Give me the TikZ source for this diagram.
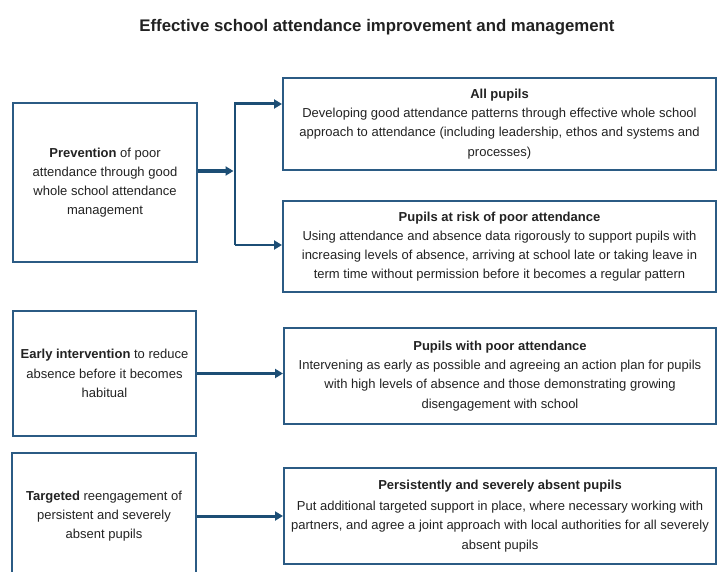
\documentclass[tikz,border=0pt]{standalone}
\usepackage{fontspec}
\setmainfont{Liberation Sans}
\usetikzlibrary{arrows.meta}
\definecolor{boxblue}{HTML}{2B5B84}
\definecolor{arrblue}{HTML}{1C4E75}
\definecolor{txt}{HTML}{222222}
\tikzset{
  x=1pt, y=-1pt,
  card/.style={draw=boxblue, line width=2pt, rectangle, align=center, text=txt,
    font=\fontsize{13}{19.2}\selectfont, inner sep=0pt},
  conn/.style={draw=arrblue, line width=2pt},
  arr/.style={conn, -{Triangle[length=8pt,width=9pt]}},
}
\begin{document}
\begin{tikzpicture}
\useasboundingbox (0,0) rectangle (717,572);
\clip (0,0) rectangle (717,572);
\node[text=txt, font=\fontsize{16.8}{19}\selectfont\bfseries] (title) at (377,27) {Effective school attendance improvement and management};

\node[card, minimum width=184, minimum height=159] (prev) at (105,182.5)
  {\textbf{Prevention} of poor\\attendance through good\\whole school attendance\\management};
\node[card, minimum width=433, minimum height=92] (all) at (499.5,124)
  {\textbf{All pupils}\\Developing good attendance patterns through effective whole school\\approach to attendance (including leadership, ethos and systems and\\processes)};
\node[card, minimum width=433, minimum height=91] (risk) at (499.5,246.5)
  {\textbf{Pupils at risk of poor attendance}\\Using attendance and absence data rigorously to support pupils with\\increasing levels of absence, arriving at school late or taking leave in\\term time without permission before it becomes a regular pattern};
\node[card, minimum width=183, minimum height=125] (early) at (104.5,373.5)
  {\textbf{Early intervention} to reduce\\absence before it becomes\\habitual};
\node[card, minimum width=432, minimum height=96] (poor) at (500,376)
  {\textbf{Pupils with poor attendance}\\Intervening as early as possible and agreeing an action plan for pupils\\with high levels of absence and those demonstrating growing\\disengagement with school};
\node[card, minimum width=184, minimum height=126] (targ) at (104,516)
  {\textbf{Targeted} reengagement of\\persistent and severely\\absent pupils};
\node[card, minimum width=432, minimum height=96] (pers) at (500,516)
  {\textbf{Persistently and severely absent pupils}\\[2pt]Put additional targeted support in place, where necessary working with\\partners, and agree a joint approach with local authorities for all severely\\absent pupils};

\coordinate (split) at (235,171);
\coordinate (jt) at (235,104);
\coordinate (jb) at (235,245);
\draw[arr, line width=3.5pt] (prev.east |- split) -- ([xshift=-1.5pt]split);
\draw[conn] (jt) -- (jb);
\draw[arr, line width=3pt] ([xshift=-1pt]jt) -- (jt -| all.west);
\draw[arr] (jb) -- (jb -| risk.west);
\draw[arr, line width=3pt] (early.east) -- (early.east -| poor.west);
\draw[arr, line width=3pt] (targ.east) -- (targ.east -| pers.west);
\end{tikzpicture}
\end{document}
